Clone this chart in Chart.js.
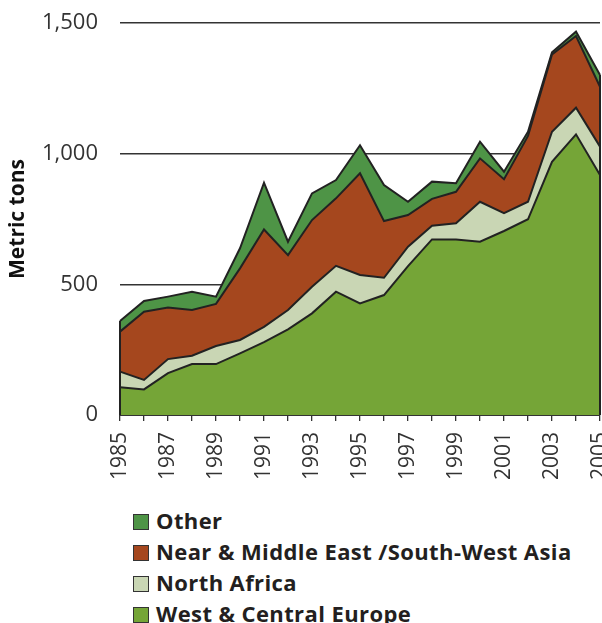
<!DOCTYPE html>
<html>
<head>
<meta charset="utf-8">
<script src="https://cdn.jsdelivr.net/npm/chart.js@4"></script>
<style>
  html, body { margin: 0; padding: 0; background: #fff; overflow: hidden; }
  #wrap { position: relative; width: 602px; height: 623px; }
  #chartBox { position: absolute; left: 0; top: 0; width: 602px; height: 500px; }
  #legend { position: absolute; left: 133px; top: 505px; font-family: "Open Sans", sans-serif; font-weight: 700; font-size: 22px; letter-spacing: 0.4px; color: #231f20; }
  .item { height: 31px; line-height: 31px; white-space: nowrap; }
  .swatch { display: inline-block; width: 14px; height: 14px; border: 1.5px solid #333; vertical-align: -1px; margin-right: 7px; }
</style>
</head>
<body>
<div id="wrap">
  <div id="chartBox"><canvas id="chart" width="602" height="500"></canvas></div>
  <div id="legend"></div>
</div>
<script>
const years = ["1985", "1986", "1987", "1988", "1989", "1990", "1991", "1992", "1993", "1994", "1995",
               "1996", "1997", "1998", "1999", "2000", "2001", "2002", "2003", "2004", "2005"];

// metric tons, per region (stacked)
const westCentralEurope = [106, 98, 160, 195, 195, 236, 279, 328, 389, 472, 427, 459, 570, 672, 672, 663, 704, 749, 969, 1074, 918];
const northAfrica = [60, 36, 54, 32, 69, 51, 58, 74, 102, 99, 109, 66, 74, 52, 62, 153, 68, 67, 115, 102, 109];
const nearMiddleEast = [153, 261, 197, 175, 161, 274, 373, 210, 255, 258, 389, 217, 121, 103, 120, 166, 130, 252, 296, 274, 229];
const other = [41, 41, 42, 70, 28, 77, 179, 51, 102, 70, 107, 138, 51, 66, 33, 64, 29, 16, 8, 17, 45];

const yTicks = [0, 500, 1000, 1500];

const series = [
    { label: "West & Central Europe", data: westCentralEurope, color: "#75a537" },
    { label: "North Africa", data: northAfrica, color: "#c9d6b4" },
    { label: "Near & Middle East /South-West Asia", data: nearMiddleEast, color: "#a5471e" },
    { label: "Other", data: other, color: "#4e9446" }
];

// draw the vertical edges of the stacked area at the first and last year
const edgePlugin = {
    id: "edges",
    afterDatasetsDraw(chart) {
        const ctx = chart.ctx;
        const top = chart.getDatasetMeta(series.length - 1).data;
        const yZero = chart.scales.y.getPixelForValue(0);
        ctx.save();
        ctx.strokeStyle = "#222";
        ctx.lineWidth = 2;
        [top[0], top[top.length - 1]].forEach(p => {
            ctx.beginPath();
            ctx.moveTo(p.x, yZero);
            ctx.lineTo(p.x, p.y);
            ctx.stroke();
        });
        ctx.restore();
    }
};

const ctx = document.getElementById("chart").getContext("2d");
new Chart(ctx, {
    type: "line",
    data: {
        labels: years,
        datasets: series.map((s, i) => ({
            label: s.label,
            data: s.data,
            backgroundColor: s.color,
            borderColor: "#222",
            borderWidth: 2,
            pointRadius: 0,
            tension: 0,
            fill: i === 0 ? "origin" : "-1"
        }))
    },
    options: {
        responsive: false,
        animation: false,
        layout: { padding: { top: 23, right: 2, left: 0, bottom: 0 } },
        plugins: {
            legend: { display: false },
            tooltip: { enabled: false }
        },
        scales: {
            x: {
                offset: false,
                grid: { drawOnChartArea: false, tickLength: 6, color: "#333", lineWidth: 1.3 },
                border: { display: true, color: "#333", width: 2 },
                ticks: {
                    autoSkip: false,
                    minRotation: 90,
                    maxRotation: 90,
                    padding: 11,
                    color: "#333",
                    font: { family: "Open Sans", size: 21 },
                    callback: function (val, idx) { return idx % 2 === 0 ? years[idx] : ""; }
                },
                afterFit: function (scale) {
                    scale.height = 85;
                    scale.paddingLeft = 0;
                    scale.paddingRight = 0;
                }
            },
            y: {
                stacked: true,
                min: 0,
                max: 1500,
                afterBuildTicks: function (scale) { scale.ticks = yTicks.map(v => ({ value: v })); },
                grid: { drawTicks: false, color: "#333", lineWidth: 1.4 },
                border: { display: false },
                ticks: {
                    padding: 22,
                    color: "#333",
                    font: { family: "Open Sans", size: 22 },
                    callback: v => v.toLocaleString("en-US")
                },
                title: {
                    display: true,
                    text: "Metric tons",
                    color: "#111",
                    padding: { top: 5, bottom: 0 },
                    font: { family: "Open Sans", size: 21, weight: "bold" }
                },
                afterFit: function (scale) {
                    scale.width = 120;
                    scale.paddingTop = 0;
                    scale.paddingBottom = 0;
                }
            }
        }
    },
    plugins: [edgePlugin]
});

// legend, top series first
const legendEl = document.getElementById("legend");
series.slice().reverse().forEach(s => {
    const row = document.createElement("div");
    row.className = "item";
    row.innerHTML = `<span class="swatch" style="background:${s.color}"></span>${s.label}`;
    legendEl.appendChild(row);
});
</script>
</body>
</html>
